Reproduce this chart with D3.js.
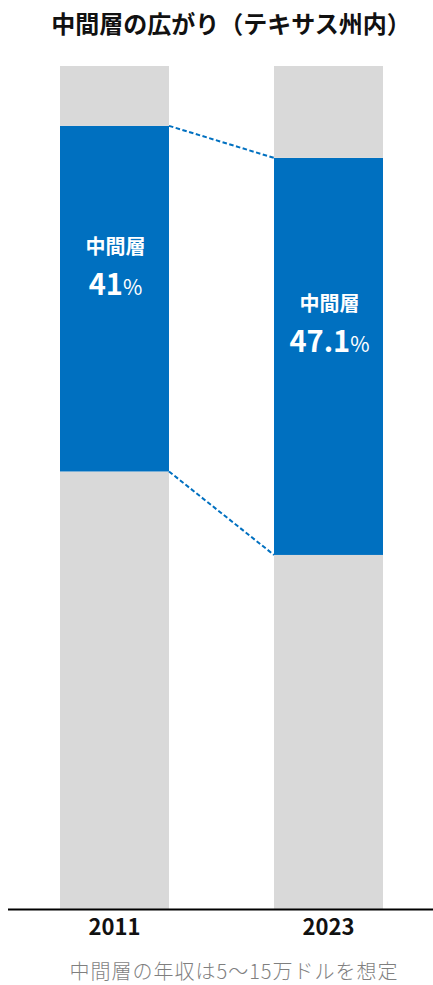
<!DOCTYPE html>
<html lang="ja">
<head>
<meta charset="utf-8">
<script src="https://cdn.jsdelivr.net/npm/d3@7"></script>
<style>
  html, body { margin: 0; padding: 0; background: #fff; }
  svg { display: block; font-family: "Noto Sans CJK JP", "Noto Sans", sans-serif; }
</style>
</head>
<body>
<svg id="chart" width="433" height="985"></svg>
<script>
// Income-tier shares (%) of Texas households, by year
const years = ["2011", "2023"];
const lowerShare = [51.9, 42.0];
const middleShare = [41, 47.1];
const upperShare = [7.1, 10.9];
const middleLabels = ["41", "47.1"];

const title = "中間層の広がり（テキサス州内）";
const segmentName = "中間層";
const note = "中間層の年収は5〜15万ドルを想定";

const W = 433, H = 985;
const baseY = 909, topY = 66;
const blue = "#0070C0", gray = "#D9D9D9";

const svg = d3.select("#chart");

const x = d3.scaleBand().domain(years).range([60, 383]).paddingInner(0.4907).paddingOuter(0);
const y = d3.scaleLinear().domain([0, 100]).range([baseY, topY]);

const rows = years.map((yr, i) => ({
  year: yr, lower: lowerShare[i], middle: middleShare[i], upper: upperShare[i], label: middleLabels[i]
}));
const stack = d3.stack().keys(["lower", "middle", "upper"]);
const layers = stack(rows);
const fills = { lower: gray, middle: blue, upper: gray };

svg.append("g").selectAll("g").data(layers).join("g")
  .attr("fill", d => fills[d.key])
  .selectAll("rect").data(d => d).join("rect")
  .attr("x", d => x(d.data.year))
  .attr("width", x.bandwidth())
  .attr("y", d => y(d[1]))
  .attr("height", d => y(d[0]) - y(d[1]));

// dashed connectors between the middle-tier segments
const mid = layers[1];
const conn = [
  [[x(years[0]) + x.bandwidth(), y(mid[0][1])], [x(years[1]), y(mid[1][1])]],
  [[x(years[0]) + x.bandwidth(), y(mid[0][0])], [x(years[1]), y(mid[1][0])]]
];
svg.append("g").selectAll("path").data(conn).join("path")
  .attr("d", d3.line())
  .attr("fill", "none")
  .attr("stroke", blue)
  .attr("stroke-width", 2)
  .attr("stroke-dasharray", "4.5,2.5");

// segment labels inside the blue bars
const lab = svg.append("g").attr("fill", "#fff").attr("text-anchor", "middle").attr("font-weight", 700);
mid.forEach(d => {
  const cx = x(d.data.year) + x.bandwidth() / 2 + 1;
  const cy = (y(d[0]) + y(d[1])) / 2;
  lab.append("text").attr("x", cx).attr("y", cy - 45).attr("font-size", 20).text(segmentName);
  const t = lab.append("text").attr("x", cx).attr("y", cy - 4).attr("font-size", 29);
  t.append("tspan").text(d.data.label);
  t.append("tspan").attr("font-size", 21).attr("font-weight", 400).text("%");
});

// baseline axis with year labels
svg.append("line").attr("x1", 8).attr("x2", W).attr("y1", baseY + 0.5).attr("y2", baseY + 0.5)
  .attr("stroke", "#000").attr("stroke-width", 2);
const axis = d3.axisBottom(x).tickSize(0).tickPadding(0);
const ax = svg.append("g").attr("transform", `translate(0,${baseY})`).call(axis);
ax.select(".domain").remove();
ax.selectAll("text").attr("dy", null).attr("y", 26).attr("font-size", 22).attr("font-weight", 700)
  .attr("fill", "#111").attr("font-family", "'Noto Sans CJK JP', sans-serif");

svg.append("text").attr("x", 231).attr("y", 33).attr("text-anchor", "middle")
  .attr("font-size", 24).attr("font-weight", 700).attr("fill", "#111").text(title);

svg.append("text").attr("x", 234).attr("y", 979).attr("text-anchor", "middle")
  .attr("font-size", 20).attr("letter-spacing", 1).attr("fill", "#7f7f7f").attr("font-weight", 300).text(note);
</script>
</body>
</html>
